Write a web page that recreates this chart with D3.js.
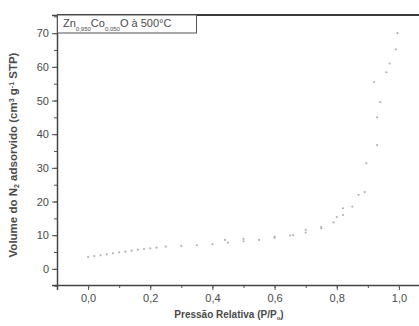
<!DOCTYPE html>
<html>
<head>
<meta charset="utf-8">
<script src="https://cdn.jsdelivr.net/npm/d3@7"></script>
<style>
  body { margin: 0; background: #fff; }
  svg { display: block; font-family: "Liberation Sans", Arial, sans-serif; }
</style>
</head>
<body>
<svg id="chart" width="419" height="326"></svg>
<script>
'use strict'

// adsorption branch (P/P0, volume)
var adsP = [0.00, 0.02, 0.04, 0.06, 0.08, 0.10, 0.12, 0.14, 0.16, 0.18, 0.20, 0.22, 0.25,
            0.30, 0.35, 0.40, 0.45, 0.50, 0.55, 0.60, 0.65, 0.70, 0.75, 0.79, 0.82, 0.85,
            0.87, 0.895, 0.93, 0.94, 0.96, 0.99, 0.995]
var adsV = [3.5, 3.8, 4.0, 4.3, 4.6, 4.9, 5.1, 5.4, 5.7, 5.9, 6.1, 6.3, 6.6,
            6.8, 7.0, 7.3, 7.8, 8.2, 8.6, 9.2, 9.9, 10.8, 12.0, 13.8, 16.0, 18.5,
            22.0, 31.4, 45.0, 49.5, 58.4, 65.2, 70.0]
// desorption branch
var desP = [0.97, 0.92, 0.93, 0.89, 0.82, 0.80, 0.75, 0.70, 0.66, 0.60, 0.50, 0.44]
var desV = [61.0, 55.5, 36.8, 22.8, 18.0, 15.4, 12.5, 11.6, 10.0, 9.5, 8.9, 8.6]

var xTicks = [0, 0.2, 0.4, 0.6, 0.8, 1.0]
var yTicks = [0, 10, 20, 30, 40, 50, 60, 70]

var svg = d3.select('#chart'),
    margin = {top: 15, right: -11, bottom: 41, left: 57},
    width = +svg.attr('width') - margin.left - margin.right,
    height = +svg.attr('height') - margin.top - margin.bottom

var g = svg.append('g')
    .attr('transform', 'translate(' + margin.left + ',' + margin.top + ')')

var x = d3.scaleLinear().domain([-0.1, 1.1]).range([0, width])
var y = d3.scaleLinear().domain([-4.8, 75.4]).range([height, 0])

var comma = d => d3.format('.1f')(d).replace('.', ',')
var textCol = '#4a4a4a'

// minor ticks
g.append('g')
  .attr('transform', 'translate(0,' + height + ')')
  .call(d3.axisBottom(x).tickValues(d3.range(-0.1, 1.11, 0.1)).tickSize(3).tickFormat(''))
  .call(a => a.select('.domain').remove())
g.append('g')
  .call(d3.axisLeft(y).tickValues(d3.range(-5, 76, 5)).tickSize(3).tickFormat(''))
  .call(a => a.select('.domain').remove())

// major axes
var xAxis = g.append('g')
  .attr('transform', 'translate(0,' + height + ')')
  .call(d3.axisBottom(x).tickValues(xTicks).tickSize(5).tickPadding(4).tickFormat(comma))
var yAxis = g.append('g')
  .call(d3.axisLeft(y).tickValues(yTicks).tickSize(5).tickPadding(3))

g.selectAll('.tick line').attr('stroke', '#555')
g.selectAll('.domain').attr('stroke', '#444').attr('stroke-width', 1.5)
g.selectAll('.tick text')
  .attr('fill', textCol)
  .style('font-size', '11px')
  .style('font-family', '"Liberation Sans", Arial, sans-serif')

// top frame line
g.append('line')
  .attr('x1', 0).attr('x2', width)
  .attr('y1', 0).attr('y2', 0)
  .attr('stroke', '#3a3a3a').attr('stroke-width', 2)

// points
var pts = adsP.map((p, i) => [p, adsV[i]]).concat(desP.map((p, i) => [p, desV[i]]))
g.selectAll('circle')
  .data(pts)
  .enter()
    .append('circle')
    .attr('cx', d => x(d[0]))
    .attr('cy', d => y(d[1]))
    .attr('r', 1.1)
    .attr('fill', '#b4b4ac')

// legend box
var lg = g.append('g')
lg.append('rect')
  .attr('x', 0.5).attr('y', 0)
  .attr('width', 139).attr('height', 18)
  .attr('fill', '#fff')
  .attr('stroke', '#555').attr('stroke-width', 1)
var lt = lg.append('text')
  .attr('x', 6).attr('y', 12)
  .attr('fill', textCol)
  .style('font-size', '11px')
lt.append('tspan').text('Zn')
lt.append('tspan').attr('dy', 4).style('font-size', '6px').text('0,950')
lt.append('tspan').attr('dy', -4).text('Co')
lt.append('tspan').attr('dy', 4).style('font-size', '6px').text('0,050')
lt.append('tspan').attr('dy', -4).text('O à 500°C')

// axis titles
var xt = svg.append('text')
  .attr('x', 229).attr('y', 318)
  .attr('text-anchor', 'middle')
  .attr('fill', textCol)
  .style('font-size', '10px')
  .style('font-weight', 'bold')
xt.append('tspan').text('Pressão Relativa (P/P')
xt.append('tspan').attr('dy', 2).style('font-size', '6px').text('o')
xt.append('tspan').attr('dy', -2).text(')')

var yt = svg.append('text')
  .attr('transform', 'translate(17,155) rotate(-90)')
  .attr('text-anchor', 'middle')
  .attr('fill', textCol)
  .style('font-size', '11.5px')
  .style('font-weight', 'bold')
yt.append('tspan').text('Volume do N')
yt.append('tspan').attr('dy', 2).style('font-size', '7px').text('2')
yt.append('tspan').attr('dy', -2).text(' adsorvido (cm')
yt.append('tspan').attr('dy', -3).style('font-size', '7px').text('3')
yt.append('tspan').attr('dy', 3).text(' g')
yt.append('tspan').attr('dy', -3).style('font-size', '7px').text('-1')
yt.append('tspan').attr('dy', 3).text(' STP)')
</script>
</body>
</html>
